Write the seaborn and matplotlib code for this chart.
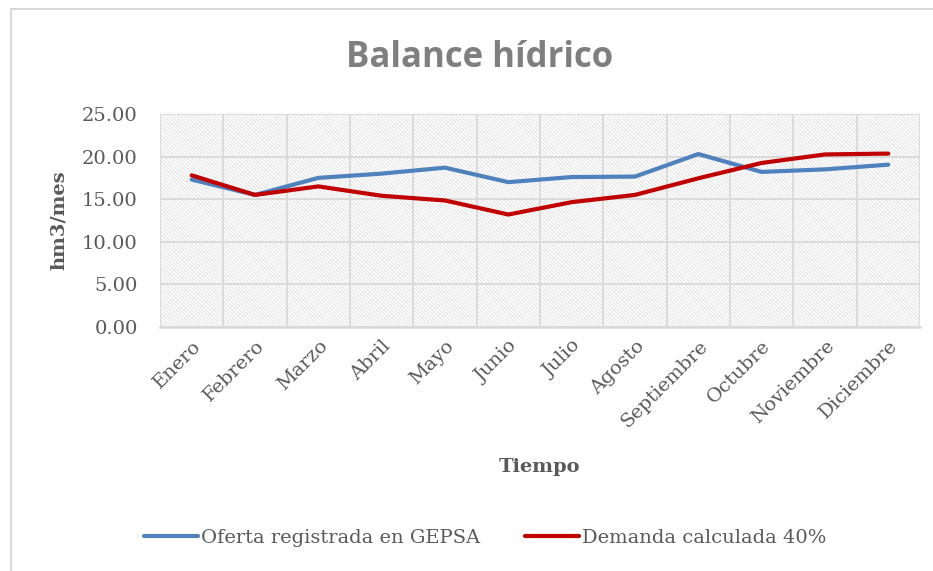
#!/usr/bin/env python3
"""
Balance hidrico: oferta registrada vs demanda calculada por mes.
"""

import pandas as pd
import matplotlib
matplotlib.use('Agg')
import matplotlib.pyplot as plt
from matplotlib.patches import Rectangle
from matplotlib.ticker import FormatStrFormatter, MultipleLocator
import seaborn as sns

# Data (hm3/mes)
meses = ['Enero', 'Febrero', 'Marzo', 'Abril', 'Mayo', 'Junio',
         'Julio', 'Agosto', 'Septiembre', 'Octubre', 'Noviembre', 'Diciembre']
oferta = [17.3, 15.5, 17.5, 18.0, 18.7, 17.0, 17.6, 17.65, 20.3, 18.2, 18.5, 19.05]
demanda = [17.8, 15.5, 16.5, 15.4, 14.85, 13.2, 14.65, 15.5, 17.45, 19.25, 20.25, 20.35]
serie_oferta = 'Oferta registrada en GEPSA'
serie_demanda = 'Demanda calculada 40%'

GRAY_TXT = '#595959'
GRID = '#d9d9d9'


def build_frame():
    """Long-format table for seaborn."""
    idx = list(range(len(meses)))
    df = pd.concat([
        pd.DataFrame({'pos': idx, 'valor': oferta, 'serie': serie_oferta}),
        pd.DataFrame({'pos': idx, 'valor': demanda, 'serie': serie_demanda}),
    ])
    return df


def main():
    sns.set_style('white')
    plt.rcParams['font.family'] = ['DejaVu Serif']
    plt.rcParams['hatch.linewidth'] = 0.7

    fig = plt.figure(figsize=(9.33, 5.71), dpi=100)
    ax = fig.add_axes([0.1715, 0.4273, 0.8145, 0.3731])

    # hatched plot background
    ax.add_patch(Rectangle((0, 0), 1, 1, transform=ax.transAxes, facecolor='white',
                           edgecolor='#e2e2e2', hatch='\\' * 9, lw=0, zorder=0))

    df = build_frame()
    sns.lineplot(data=df, x='pos', y='valor', hue='serie', ax=ax,
                 palette={serie_oferta: '#4f81bd', serie_demanda: '#c00000'},
                 linewidth=3.0, legend=True, zorder=3)

    ax.set_xlim(-0.5, len(meses) - 0.5)
    ax.set_ylim(0, 25)
    ax.yaxis.set_major_locator(MultipleLocator(5))
    ax.yaxis.set_major_formatter(FormatStrFormatter('%.2f'))
    ax.set_xticks(range(len(meses)))
    ax.set_xticks([i - 0.5 for i in range(len(meses) + 1)] +
                  [i for i in range(len(meses))], minor=True)
    ax.set_xticklabels(meses, rotation=45, ha='right', rotation_mode='anchor',
                       fontsize=14, color=GRAY_TXT)
    ax.tick_params(axis='y', labelsize=14, labelcolor=GRAY_TXT, length=0, pad=16)
    ax.tick_params(axis='x', which='both', length=0, pad=7)

    ax.grid(False)
    ax.grid(True, axis='y', color=GRID, lw=1.3, zorder=1)
    ax.grid(True, axis='x', which='minor', color=GRID, lw=1.3, zorder=1)
    ax.set_axisbelow(True)
    for side in ['top', 'right', 'left']:
        ax.spines[side].set_visible(False)
    ax.spines['bottom'].set_color(GRID)
    ax.spines['bottom'].set_linewidth(1.8)

    ax.set_xlabel('Tiempo', fontsize=14, weight='bold', color=GRAY_TXT, labelpad=20)
    ax.set_ylabel('hm3/mes', fontsize=14, weight='bold', color=GRAY_TXT, labelpad=10)

    # legend at the bottom
    handles, labels = ax.get_legend_handles_labels()
    ax.get_legend().remove()
    fig.legend(handles, labels, loc='center', bbox_to_anchor=(0.52, 0.058), ncol=2,
               frameon=False, fontsize=14, handlelength=2.8, handletextpad=0.15,
               columnspacing=2.3, labelcolor=GRAY_TXT)

    fig.text(0.5145, 1 - 58 / 571, 'Balance hídrico', ha='center', va='center',
             fontsize=25, weight='bold', color='#7f7f7f', family=['Open Sans'])

    # outer chart border (cut at right/bottom like the reference)
    fig.add_artist(Rectangle((11 / 933, -0.1), 1.2, 1.1 - 9 / 571,
                             transform=fig.transFigure, fill=False,
                             edgecolor=GRID, lw=1.5))

    fig.savefig('out.png', dpi=100)


if __name__ == '__main__':
    main()
